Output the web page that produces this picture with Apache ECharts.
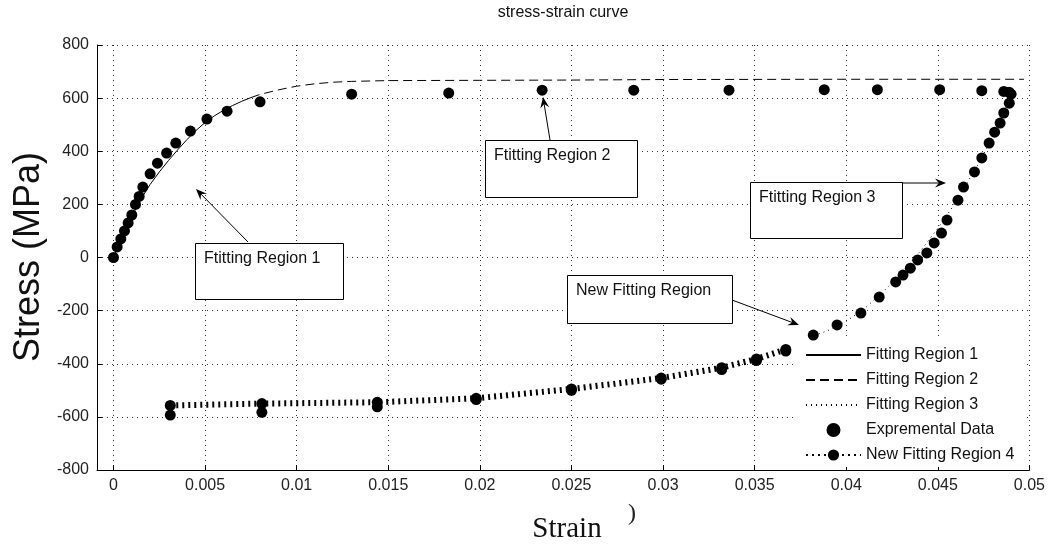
<!DOCTYPE html>
<html><head><meta charset="utf-8">
<script src="https://cdn.jsdelivr.net/npm/echarts@6/dist/echarts.min.js"></script>
<style>html,body{margin:0;padding:0;background:#fff}#c{width:1048px;height:544px}</style>
</head><body><div id="c"></div>
<script>
// ---- data ----
const xTicks = [0, 0.005, 0.01, 0.015, 0.02, 0.025, 0.03, 0.035, 0.04, 0.045, 0.05];
const yTicks = [-800, -600, -400, -200, 0, 200, 400, 600, 800];
const seriesNames = ['Fitting Region 1', 'Fitting Region 2', 'Fitting Region 3', 'Expremental Data', 'New Fitting Region 4'];

const region1 = [[0,0],[0.0005,80],[0.001,155],[0.0015,220],[0.002,275],[0.0025,322],[0.003,365],[0.0035,405],[0.004,443],[0.0045,478],[0.005,508],[0.0055,533],[0.006,554],[0.0065,572],[0.007,588],[0.0075,602]];
const region2 = [[0.0075,602],[0.008,614],[0.009,631],[0.01,645],[0.011,654],[0.012,660],[0.013,663],[0.015,666],[0.02,667],[0.025,668],[0.03,670],[0.04,671],[0.0497,671]];
const region3 = [[0.0490,620],[0.0487,560],[0.0483,500],[0.0478,430],[0.0472,350],[0.0465,270],[0.0458,190],[0.045,110],[0.044,20],[0.043,-60],[0.042,-130],[0.041,-192],[0.040,-240],[0.039,-275],[0.038,-300]];
const region4 = [[0.0031,-557],[0.0081,-550],[0.0144,-545],[0.0198,-530],[0.025,-495],[0.0299,-454],[0.0332,-415],[0.0351,-382],[0.0367,-346]];
const experimental = [
  [0,0],[0.0002,40],[0.0004,70],[0.0006,100],[0.0008,130],[0.001,160],[0.0012,200],[0.0014,230],[0.0016,265],
  [0.002,315],[0.0024,355],[0.0029,393],[0.0034,431],[0.0042,476],[0.0051,521],[0.0062,551],[0.0080,586],
  [0.0130,615],[0.0183,619],[0.0234,630],[0.0284,630],[0.0336,630],[0.0388,632],[0.0417,632],[0.0451,632],[0.0474,628],
  [0.0486,625],[0.0489,622],[0.0490,615],
  [0.0489,581],[0.0486,544],[0.0484,506],[0.0481,472],[0.0478,431],[0.0474,375],[0.0470,322],[0.0464,265],[0.0461,216],
  [0.0455,141],[0.0452,92],[0.0448,55],[0.0444,17],[0.0439,-9],[0.0435,-40],[0.0431,-66],[0.0427,-92],[0.0418,-149],
  [0.0408,-209],[0.0395,-254],[0.0382,-292],
  [0.0367,-352],[0.0351,-388],[0.0332,-422],[0.0299,-458],[0.025,-500],[0.0198,-535],[0.0144,-562],[0.0081,-583],[0.0031,-593]
];

// ---- annotation layout ----
const FONT = '"Liberation Sans", Arial, sans-serif';
const notes = [
  {text:'Ftitting Region 1', box:[195,243,148,56], from:[248,242], to:[196,189]},
  {text:'Ftitting Region 2', box:[485,140,152,57], from:[550,140], to:[543,97]},
  {text:'Ftitting Region 3', box:[750,182,152,56], from:[902,183], to:[946,183]},
  {text:'New Fitting Region', box:[567,275,165,48], from:[732,300], to:[799,325]}
];

function arrow(x1,y1,x2,y2){
  const dx=x2-x1, dy=y2-y1, L=Math.hypot(dx,dy), ux=dx/L, uy=dy/L, px=-uy, py=ux;
  const hl=11, hw=4.5;
  const bx=x2-ux*hl, by=y2-uy*hl;
  const nx=x2-ux*hl*0.65, ny=y2-uy*hl*0.65;
  return [
    {type:'line', z:100, shape:{x1:x1,y1:y1,x2:nx,y2:ny}, style:{stroke:'#000', lineWidth:1}},
    {type:'polygon', z:100, shape:{points:[[x2,y2],[bx+px*hw,by+py*hw],[nx,ny],[bx-px*hw,by-py*hw]]}, style:{fill:'#000'}}
  ];
}

const graphics = [];
notes.forEach(n => {
  const [bx,by,bw,bh] = n.box;
  graphics.push({type:'rect', z:100, shape:{x:bx+0.5,y:by+0.5,width:bw,height:bh}, style:{fill:'#fff', stroke:'#000', lineWidth:1}});
  graphics.push({type:'text', z:101, x:bx+9, y:by+16, style:{text:n.text, font:'16px '+FONT, fill:'#111', textVerticalAlign:'middle'}});
  arrow(n.from[0],n.from[1],n.to[0],n.to[1]).forEach(g => graphics.push(g));
});
graphics.push({type:'text', z:100, x:563, y:13, style:{text:'stress-strain curve', font:'16px '+FONT, fill:'#111', textAlign:'center', textVerticalAlign:'middle'}});
graphics.push({type:'text', z:100, x:29, y:257, rotation:Math.PI/2, style:{text:'Stress (MPa)', font:'36px '+FONT, fill:'#111', textAlign:'center', textVerticalAlign:'middle'}});
graphics.push({type:'text', z:100, x:567, y:529, style:{text:'Strain', font:'29px "Liberation Serif", "Times New Roman", serif', fill:'#111', textAlign:'center', textVerticalAlign:'middle'}});
graphics.push({type:'text', z:100, x:632, y:514, style:{text:')', font:'24px "Liberation Serif", serif', fill:'#222', textAlign:'center', textVerticalAlign:'middle'}});

const fmt = v => String(+(+v).toFixed(3));
const hideSym = {opacity:0, color:'rgba(0,0,0,0)'};

const chart = echarts.init(document.getElementById('c'), null, {renderer:'canvas'});
chart.setOption({
  animation:false,
  backgroundColor:'#fff',
  grid:{left:97, right:18, top:45, bottom:74, containLabel:false},
  xAxis:{
    type:'value', min:-0.0009, max:0.05,
    axisLine:{show:true, onZero:false, lineStyle:{color:'#000', width:1}},
    axisTick:{show:true, inside:true, length:5, customValues:xTicks, lineStyle:{color:'#000'}},
    axisLabel:{customValues:xTicks, formatter:fmt, margin:8, fontSize:16, fontFamily:FONT, color:'#222'},
    splitLine:{show:true, lineStyle:{color:'#333', width:1, type:[1,4]}}
  },
  yAxis:{
    type:'value', min:-800, max:800, interval:200,
    axisLine:{show:true, onZero:false, lineStyle:{color:'#000', width:1}},
    axisTick:{show:true, inside:true, length:5, lineStyle:{color:'#000'}},
    axisLabel:{margin:8, fontSize:16, fontFamily:FONT, color:'#222'},
    splitLine:{show:true, lineStyle:{color:'#333', width:1, type:[1,4]}}
  },
  legend:{
    orient:'vertical', left:793, top:338, padding:[9,12,4,12], z:1,
    backgroundColor:'#fff', itemWidth:55, itemHeight:14, itemGap:9,
    textStyle:{fontSize:16, fontFamily:FONT, color:'#111'},
    data:[
      {name:seriesNames[0], itemStyle:hideSym},
      {name:seriesNames[1], itemStyle:hideSym},
      {name:seriesNames[2], itemStyle:hideSym},
      {name:seriesNames[3], icon:'circle'},
      {name:seriesNames[4]}
    ]
  },
  series:[
    {name:seriesNames[0], type:'line', data:region1, symbol:'none', lineStyle:{color:'#000', width:1}, itemStyle:{color:'#000'}, z:3},
    {name:seriesNames[1], type:'line', data:region2, symbol:'none', lineStyle:{color:'#000', width:1, type:[9,5]}, itemStyle:{color:'#000'}, z:3},
    {name:seriesNames[2], type:'line', data:region3, symbol:'none', lineStyle:{color:'#000', width:1, type:[1,4]}, itemStyle:{color:'#000'}, z:3},
    {name:seriesNames[3], type:'scatter', data:experimental, symbol:'circle', symbolSize:11, itemStyle:{color:'#000', opacity:1}, z:4},
    {name:seriesNames[4], type:'line', data:region4, symbol:'circle', symbolSize:11, showSymbol:true, lineStyle:{color:'#000', width:6, type:[2,4]}, itemStyle:{color:'#000', opacity:1}, z:5}
  ],
  graphic:graphics
});
</script>
</body></html>
